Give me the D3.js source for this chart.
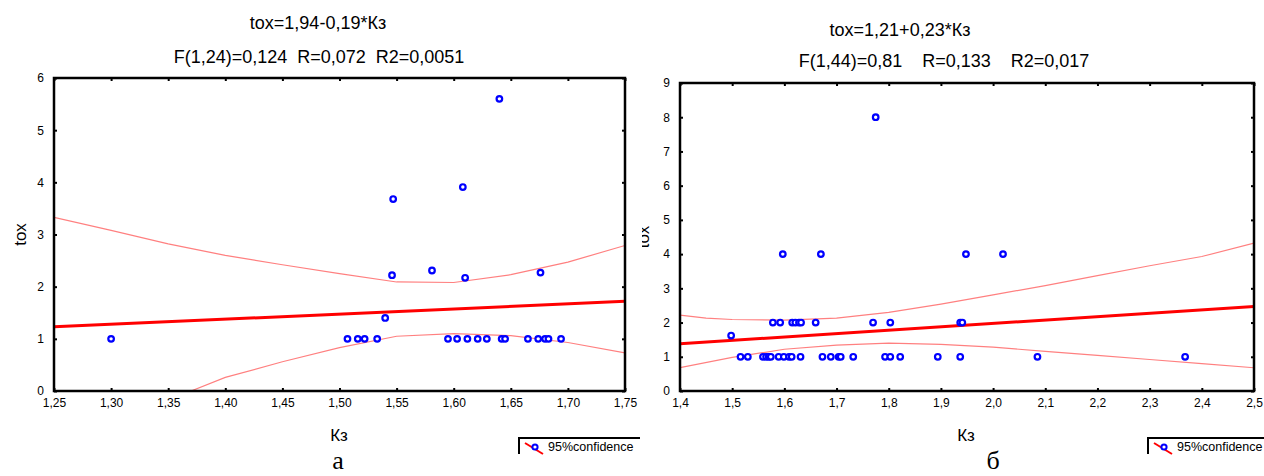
<!DOCTYPE html>
<html>
<script src="https://d3js.org/d3.v7.min.js"></script>

<head>
    <style>
        body {
            margin: 0;
            background-color: #ffffff;
            font-family: "Liberation Sans", Arial, sans-serif;
        }

        svg {
            display: block;
        }
    </style>
</head>

<body>
</body>
<script>
    const width = 1264,
        height = 476;
    const svg = d3.select("body").append("svg").attr("width", width).attr("height", height);

    // panel a
    const aTitle = ["tox=1,94-0,19*Кз", "F(1,24)=0,124  R=0,072  R2=0,0051"];
    const aXTicks = ["1,25", "1,30", "1,35", "1,40", "1,45", "1,50", "1,55", "1,60", "1,65", "1,70", "1,75"];
    const aYTicks = ["0", "1", "2", "3", "4", "5", "6"];
    const aKz = [1.300, 1.507, 1.516, 1.522, 1.533, 1.540, 1.546, 1.547, 1.581, 1.595, 1.603, 1.608, 1.610,
        1.612, 1.621, 1.629, 1.640, 1.642, 1.645, 1.665, 1.674, 1.676, 1.680, 1.683, 1.694];
    const aTox = [1.0, 1.0, 1.0, 1.0, 1.0, 1.40, 2.22, 3.68, 2.31, 1.0, 1.0, 3.91, 2.17,
        1.0, 1.0, 1.0, 5.60, 1.0, 1.0, 1.0, 1.0, 2.27, 1.0, 1.0, 1.0];
    const aFitX = [1.25, 1.75];
    const aFitY = [1.23, 1.72];
    const aUpX = [1.25, 1.30, 1.35, 1.40, 1.45, 1.50, 1.55, 1.60, 1.65, 1.70, 1.75];
    const aUpY = [3.33, 3.08, 2.82, 2.60, 2.42, 2.25, 2.09, 2.08, 2.23, 2.47, 2.79];
    const aLowX = [1.37, 1.40, 1.45, 1.50, 1.55, 1.60, 1.65, 1.70, 1.75];
    const aLowY = [0, 0.26, 0.56, 0.83, 1.05, 1.10, 1.06, 0.93, 0.73];

    // panel б
    const bTitle = ["tox=1,21+0,23*Кз", "F(1,44)=0,81    R=0,133    R2=0,017"];
    const bXTicks = ["1,4", "1,5", "1,6", "1,7", "1,8", "1,9", "2,0", "2,1", "2,2", "2,3", "2,4", "2,5"];
    const bYTicks = ["0", "1", "2", "3", "4", "5", "6", "7", "8", "9"];
    const bKz = [1.498,
        1.516, 1.530, 1.559, 1.565, 1.570, 1.574, 1.589, 1.599, 1.609, 1.614, 1.631, 1.673,
        1.689, 1.704, 1.708, 1.732, 1.793, 1.803, 1.822, 1.894, 1.937, 2.085, 2.368,
        1.578, 1.592, 1.615, 1.621, 1.628, 1.632, 1.660, 1.770, 1.803, 1.937, 1.941,
        1.597, 1.670, 1.948, 2.019,
        1.775];
    const bTox = [1.62,
        1, 1, 1, 1, 1, 1, 1, 1, 1, 1, 1, 1,
        1, 1, 1, 1, 1, 1, 1, 1, 1, 1, 1,
        2, 2, 2, 2, 2, 2, 2, 2, 2, 2, 2,
        4, 4, 4, 4,
        8];
    const bFitX = [1.4, 2.5];
    const bFitY = [1.38, 2.47];
    const bUpX = [1.4, 1.45, 1.5, 1.6, 1.7, 1.8, 1.9, 2.0, 2.1, 2.2, 2.3, 2.4, 2.5];
    const bUpY = [2.22, 2.13, 2.09, 2.07, 2.13, 2.30, 2.54, 2.81, 3.08, 3.37, 3.66, 3.93, 4.32];
    const bLowX = [1.4, 1.5, 1.6, 1.7, 1.8, 1.9, 2.0, 2.1, 2.2, 2.3, 2.4, 2.5];
    const bLowY = [0.68, 0.98, 1.22, 1.34, 1.40, 1.36, 1.28, 1.16, 1.04, 0.92, 0.80, 0.68];

    const num = s => +s.replace(",", ".");

    function panel(p) {
        const g = svg.append("g");
        const xv = p.xTicks.map(num), yv = p.yTicks.map(num);
        const x = d3.scaleLinear().domain(d3.extent(xv)).range([p.left, p.right]);
        const y = d3.scaleLinear().domain(d3.extent(yv)).range([p.bottom, p.top]);

        // titles
        g.append("text").attr("x", p.t1x).attr("y", p.t1y).attr("text-anchor", "middle")
            .attr("dominant-baseline", "middle").attr("font-size", 18).text(p.title[0]);
        g.append("text").attr("x", p.t2x).attr("y", p.t2y).attr("text-anchor", "middle")
            .attr("dominant-baseline", "middle").attr("font-size", 18)
            .style("white-space", "pre").text(p.title[1]);

        const clipId = "clip" + p.id;
        g.append("clipPath").attr("id", clipId).append("rect")
            .attr("x", p.left).attr("y", p.top).attr("width", p.right - p.left).attr("height", p.bottom - p.top);
        const plot = g.append("g").attr("clip-path", `url(#${clipId})`);

        const line = d3.line().x(d => x(d[0])).y(d => y(d[1]));
        plot.append("path").datum(d3.zip(p.upX, p.upY)).attr("d", line)
            .attr("fill", "none").attr("stroke", "#ff8080").attr("stroke-width", 1.2);
        plot.append("path").datum(d3.zip(p.lowX, p.lowY)).attr("d", line)
            .attr("fill", "none").attr("stroke", "#ff8080").attr("stroke-width", 1.2);
        plot.append("path").datum(d3.zip(p.fitX, p.fitY)).attr("d", line)
            .attr("fill", "none").attr("stroke", "#ff0000").attr("stroke-width", 3);

        plot.selectAll("circle").data(d3.zip(p.kz, p.tox)).join("circle")
            .attr("cx", d => x(d[0])).attr("cy", d => y(d[1])).attr("r", 2.8)
            .attr("fill", "white").attr("stroke", "#0000ff").attr("stroke-width", 2.2);

        // axes
        const fmtX = d => p.xTicks[xv.indexOf(d)];
        const ax = [
            g.append("g").attr("transform", `translate(0,${p.bottom})`)
                .call(d3.axisBottom(x).tickValues(xv).tickFormat(fmtX).tickSize(-3).tickPadding(7)),
            g.append("g").attr("transform", `translate(0,${p.top})`)
                .call(d3.axisTop(x).tickValues(xv).tickFormat("").tickSize(-3)),
            g.append("g").attr("transform", `translate(${p.left},0)`)
                .call(d3.axisLeft(y).tickValues(yv).tickFormat(d => p.yTicks[yv.indexOf(d)]).tickSize(-3).tickPadding(10)),
            g.append("g").attr("transform", `translate(${p.right},0)`)
                .call(d3.axisRight(y).tickValues(yv).tickFormat("").tickSize(-3))
        ];
        ax.forEach(a => {
            a.select(".domain").remove();
            a.selectAll(".tick line").attr("stroke-width", 2);
            a.selectAll("text").attr("font-size", 12).attr("font-family", "Liberation Sans, Arial").attr("fill", "#000");
        });
        g.append("rect").attr("x", p.left).attr("y", p.top)
            .attr("width", p.right - p.left).attr("height", p.bottom - p.top)
            .attr("fill", "none").attr("stroke", "black").attr("stroke-width", 2.5);

        // axis titles
        g.append("text").attr("x", p.kzx).attr("y", 437).attr("text-anchor", "middle")
            .attr("dominant-baseline", "middle").attr("font-size", 17).text("Кз");
        const yClip = "yclip" + p.id;
        g.append("clipPath").attr("id", yClip).append("rect")
            .attr("x", p.clipLeft).attr("y", 0).attr("width", 640).attr("height", height);
        g.append("g").attr("clip-path", `url(#${yClip})`)
            .append("text")
            .attr("transform", `translate(${p.toxx},${(p.top + p.bottom) / 2}) rotate(-90)`)
            .attr("text-anchor", "middle").attr("font-size", 17).text("tox");

        // legend
        const lg = g.append("g").attr("transform", `translate(${p.legx},438)`);
        lg.append("path").attr("d", `M0,16V0H${p.panelLeft + 640 - p.legx}`)
            .attr("fill", "none").attr("stroke", "black").attr("stroke-width", 2);
        lg.append("line").attr("x1", 6).attr("y1", 5).attr("x2", 24).attr("y2", 16)
            .attr("stroke", "#ff0000").attr("stroke-width", 2);
        lg.append("circle").attr("cx", 16).attr("cy", 9).attr("r", 2.6)
            .attr("fill", "white").attr("stroke", "#0000ff").attr("stroke-width", 2);
        lg.append("text").attr("x", 29).attr("y", 10).attr("dominant-baseline", "middle")
            .attr("font-size", 12.5).text("95%confidence");

        // panel letter
        g.append("text").attr("x", p.letx).attr("y", 469).attr("text-anchor", "middle")
            .attr("font-family", "Liberation Serif, Times New Roman, serif").attr("font-size", 26).text(p.letter);
    }

    panel({
        id: "a", title: aTitle, xTicks: aXTicks, yTicks: aYTicks, kz: aKz, tox: aTox,
        fitX: aFitX, fitY: aFitY, upX: aUpX, upY: aUpY, lowX: aLowX, lowY: aLowY,
        left: 54, right: 625, top: 78, bottom: 391, panelLeft: 0, clipLeft: 0,
        t1x: 318, t1y: 24, t2x: 319, t2y: 58, kzx: 339, toxx: 26, legx: 519, letx: 338, letter: "а"
    });
    panel({
        id: "b", title: bTitle, xTicks: bXTicks, yTicks: bYTicks, kz: bKz, tox: bTox,
        fitX: bFitX, fitY: bFitY, upX: bUpX, upY: bUpY, lowX: bLowX, lowY: bLowY,
        left: 680, right: 1254, top: 83, bottom: 391, panelLeft: 641, clipLeft: 642,
        t1x: 900, t1y: 31, t2x: 944, t2y: 62, kzx: 966, toxx: 649, legx: 1148, letx: 993, letter: "б"
    });
</script>

</html>
